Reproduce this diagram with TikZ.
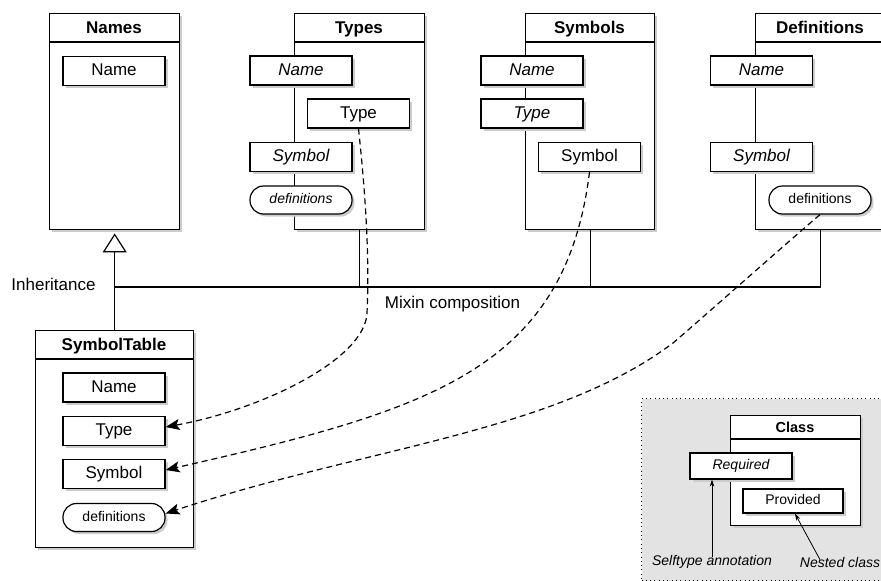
\documentclass[tikz,border=0pt]{standalone}
\usepackage{fontspec}
\setmainfont{Liberation Sans}
\usetikzlibrary{arrows.meta,shadows}
\begin{document}
\begin{tikzpicture}[x=1pt,y=-1pt,
  shad/.style={drop shadow={shadow xshift=2.5pt,shadow yshift=-2.5pt,fill=black!20,draw=none,opacity=1}},
  cls/.style={draw,line width=1.4pt,fill=white,shad,rectangle,anchor=north west,inner sep=0pt},
  ttl/.style={font=\fontsize{17}{20}\selectfont\bfseries,anchor=base,inner sep=0pt},
  mem/.style={draw,line width=1.2pt,fill=white,shad,minimum width=102pt,minimum height=29pt,inner sep=0pt,text height=12.5pt,text depth=3.5pt,font=\fontsize{17}{20}\selectfont},
  imem/.style={mem,font=\fontsize{17}{20}\selectfont\itshape},
  rmem/.style={mem,rounded corners=13.5pt,minimum height=28pt,text height=10pt,text depth=3pt,font=\fontsize{14}{16}\selectfont},
  irmem/.style={rmem,font=\fontsize{14}{16}\selectfont\itshape},
  lbl/.style={font=\fontsize{17}{20}\selectfont,inner sep=0pt},
  dep/.style={line width=1.2pt,dash pattern=on 6pt off 4pt,-{Stealth[length=14pt,width=11pt,inset=3pt]}},
  conn/.style={line width=1.4pt},
  lmem/.style={draw,line width=1.2pt,fill=white,shad,inner sep=0pt,text height=10pt,text depth=3pt,font=\fontsize{14}{16}\selectfont},
  note/.style={line width=0.8pt,-{Stealth[length=7pt,width=4.5pt]}},
  ntext/.style={font=\fontsize{14}{16}\selectfont\itshape,inner sep=0pt}
]
\useasboundingbox (0,0) rectangle (881,581);

% ---------- class boxes ----------
\node[cls,minimum width=130pt,minimum height=216pt] (names) at (49,13) {};
\node[cls,minimum width=130pt,minimum height=216pt] (types) at (294,13) {};
\node[cls,minimum width=129pt,minimum height=216pt] (symbols) at (525,13) {};
\node[cls,minimum width=130pt,minimum height=216pt] (defs) at (755,13) {};
\node[cls,minimum width=158pt,minimum height=217pt] (symtab) at (35,330) {};

\foreach \c in {names,types,symbols,defs,symtab}
  \draw[line width=1.4pt] ([yshift=-29pt]\c.north west) -- ([yshift=-29pt]\c.north east);

\node[ttl] (namesT) at (114,33.5) {Names};
\node[ttl] (typesT) at (359,33.5) {Types};
\node[ttl] (symbolsT) at (589.5,33.5) {Symbols};
\node[ttl] (defsT) at (820,33.5) {Definitions};
\node[ttl] (symtabT) at (114,350.5) {SymbolTable};

% ---------- members ----------
\node[mem] (namesName) at (114,71) {Name};

\node[imem] (typesName) at (301,70.5) {Name};
\node[mem] (typesType) at (358.5,113.5) {Type};
\node[imem] (typesSymbol) at (301,157) {Symbol};
\node[irmem] (typesDefs) at (301,200) {definitions};

\node[imem] (symName) at (532,70.5) {Name};
\node[imem] (symType) at (532,113.5) {Type};
\node[mem] (symSymbol) at (589.5,157) {Symbol};

\node[imem] (defsName) at (761.5,70.5) {Name};
\node[imem] (defsSymbol) at (761.5,157) {Symbol};
\node[rmem] (defsDefs) at (820,200) {definitions};

\node[mem] (stName) at (114,387.5) {Name};
\node[mem] (stType) at (114,431) {Type};
\node[mem] (stSymbol) at (114,474) {Symbol};
\node[rmem] (stDefs) at (114,517.5) {definitions};

% ---------- inheritance & mixin ----------
\coordinate (j0) at (114,287);
\draw[conn,-{Triangle[open,length=19pt,width=24pt,fill=white,line width=1.2pt]}] (symtab.north) -- ([yshift=-3pt]names.south);
\draw[conn] (defs.south) |- (j0);
\draw[conn] (types.south) -- (types.south |- j0);
\draw[conn] (symbols.south) -- (symbols.south |- j0);

\node[lbl] (inhL) at (53.5,284) {Inheritance};
\node[lbl] (mixL) at (452.5,304) {Mixin composition};

% ---------- dependency arrows ----------
\draw[dep] (typesType.south) .. controls (364,180) and (370,250) .. (367,313)
  .. controls (365,360) and (260,410) .. ([yshift=4pt]stType.east);
\draw[dep] (symSymbol.south) .. controls (565,370) and (430,410) .. ([yshift=4pt]stSymbol.east);
\draw[dep] (defsDefs.south) .. controls (790,240) and (700,320) .. (673,343)
  .. controls (553,433) and (366,447) .. ([yshift=4pt]stDefs.east);

% ---------- legend ----------
\node[draw,fill=black!11,line width=1pt,dash pattern=on 1pt off 3.3pt,anchor=north west,minimum width=260pt,minimum height=182pt,inner sep=0pt] (legend) at (641,398) {};
\node[cls,minimum width=130pt,minimum height=110pt] (lclass) at (730,415) {};
\draw[line width=1.4pt] ([yshift=-24pt]lclass.north west) -- ([yshift=-24pt]lclass.north east);
\node[font=\fontsize{14.5}{17}\selectfont\bfseries,anchor=base,inner sep=0pt] (lclassT) at (795,432) {Class};
\node[lmem,minimum width=102pt,minimum height=26pt,font=\fontsize{14}{16}\selectfont\itshape] (req) at (741,466) {Required};
\node[lmem,minimum width=100pt,minimum height=24pt] (prov) at (793,501) {Provided};
\node[ntext] (selftxt) at (712,562) {Selftype annotation};
\node[ntext] (nesttxt) at (840,562) {Nested class};
\draw[note] ([yshift=-2pt]selftxt.north) -- (selftxt.north |- req.south);
\draw[note] ([xshift=-20pt,yshift=-3pt]nesttxt.north) -- ([xshift=2pt]prov.south);
\end{tikzpicture}
\end{document}
